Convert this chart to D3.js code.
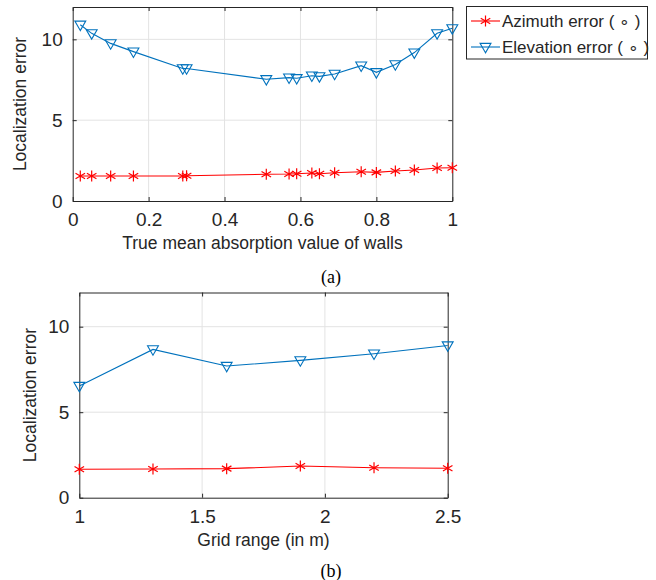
<!DOCTYPE html>
<html>
<head>
<meta charset="utf-8">
<script src="https://cdn.jsdelivr.net/npm/d3@7"></script>
<style>
  body { margin: 0; background: #fff; }
  text { font-family: "Liberation Sans", Arial, sans-serif; fill: #262626; }
  .caption { font-family: "Liberation Serif", "Times New Roman", serif; fill: #000; }
</style>
</head>
<body>
<svg id="fig" width="656" height="580"></svg>
<script>
// ---- data ----
var absorption = [0.02, 0.05, 0.10, 0.16, 0.29, 0.30, 0.51, 0.57, 0.59, 0.63, 0.65, 0.69, 0.76, 0.80, 0.85, 0.90, 0.96, 1.00];
var azimuthA   = [1.55, 1.55, 1.55, 1.55, 1.55, 1.56, 1.65, 1.67, 1.69, 1.73, 1.69, 1.75, 1.81, 1.77, 1.86, 1.92, 2.04, 2.06];
var elevationA = [10.9, 10.37, 9.75, 9.24, 8.2, 8.2, 7.53, 7.63, 7.59, 7.75, 7.71, 7.86, 8.37, 7.96, 8.45, 9.18, 10.37, 10.68];

var gridRange  = [1.0, 1.3, 1.6, 1.9, 2.2, 2.5];
var azimuthB   = [1.66, 1.68, 1.70, 1.85, 1.75, 1.72];
var elevationB = [6.53, 8.67, 7.70, 8.03, 8.42, 8.90];

var xTicksA = [0, 0.2, 0.4, 0.6, 0.8, 1];
var xTicksB = [1, 1.5, 2, 2.5];
var yTicks  = [0, 5, 10];

var seriesNames = ['Azimuth error ( \u2218 )', 'Elevation error ( \u2218 )'];
var seriesColors = ['#ff0000', '#0072bd'];

var svg = d3.select('#fig');

var asterisk = d3.symbol().type(d3.symbolAsterisk).size(85);
var triDown = d3.symbol().type(d3.symbolTriangle2).size(85);

function drawMarker(g, kind, color, x, y) {
  if (kind === 0) {
    g.append('path').attr('d', asterisk()).attr('transform', 'translate(' + x + ',' + y + ')')
      .attr('fill', 'none').attr('stroke', color).attr('stroke-width', 1.2);
  } else {
    g.append('path').attr('d', triDown()).attr('transform', 'translate(' + x + ',' + (y - 0.5) + ') rotate(180)')
      .attr('fill', 'none').attr('stroke', color).attr('stroke-width', 1.1);
  }
}

function panel(opt) {
  var x = d3.scaleLinear().domain(opt.xDomain).range([opt.left, opt.right]);
  var y = d3.scaleLinear().domain([0, 12]).range([opt.bottom, opt.top]);
  var g = svg.append('g');

  // grid
  g.selectAll('.gx').data(opt.xTicks.slice(1, -1)).enter().append('line')
    .attr('x1', function(d) { return x(d); }).attr('x2', function(d) { return x(d); })
    .attr('y1', opt.top).attr('y2', opt.bottom)
    .attr('stroke', '#e3e3e3').attr('stroke-width', 1);
  g.selectAll('.gy').data(yTicks.slice(1)).enter().append('line')
    .attr('x1', opt.left).attr('x2', opt.right)
    .attr('y1', function(d) { return y(d); }).attr('y2', function(d) { return y(d); })
    .attr('stroke', '#e3e3e3').attr('stroke-width', 1);

  // axes with inward ticks
  var fs = 19;
  var xAx = g.append('g').attr('transform', 'translate(0,' + opt.bottom + ')')
    .call(d3.axisBottom(x).tickValues(opt.xTicks).tickSizeInner(-4).tickSizeOuter(0).tickPadding(12).tickFormat(d3.format('~g')));
  var xTop = g.append('g').attr('transform', 'translate(0,' + opt.top + ')')
    .call(d3.axisTop(x).tickValues(opt.xTicks).tickSizeInner(-4).tickSizeOuter(0).tickFormat(''));
  var yAx = g.append('g').attr('transform', 'translate(' + opt.left + ',0)')
    .call(d3.axisLeft(y).tickValues(yTicks).tickSizeInner(-4).tickSizeOuter(0).tickPadding(10));
  var yR = g.append('g').attr('transform', 'translate(' + opt.right + ',0)')
    .call(d3.axisRight(y).tickValues(yTicks).tickSizeInner(-4).tickSizeOuter(0).tickFormat(''));
  [xAx, xTop, yAx, yR].forEach(function(a) {
    a.select('.domain').attr('stroke', '#262626').attr('stroke-width', 1);
    a.selectAll('.tick line').attr('stroke', '#262626');
    a.selectAll('.tick text').attr('font-size', fs).attr('fill', '#262626')
      .style('font-family', '"Liberation Sans", Arial, sans-serif');
  });

  // axis labels
  g.append('text').attr('x', (opt.left + opt.right) / 2).attr('y', opt.bottom + 48)
    .attr('text-anchor', 'middle').attr('font-size', 17.5).text(opt.xLabel);
  g.append('text').attr('transform', 'translate(' + opt.yLabelX + ',' + (opt.top + opt.bottom) / 2 + ') rotate(-90)')
    .attr('text-anchor', 'middle').attr('font-size', 17.5).text('Localization error');

  // series
  var line = d3.line().x(function(d) { return x(d[0]); }).y(function(d) { return y(d[1]); });
  opt.series.forEach(function(vals, k) {
    var pts = opt.xs.map(function(v, i) { return [v, vals[i]]; });
    g.append('path').datum(pts).attr('d', line).attr('fill', 'none')
      .attr('stroke', seriesColors[k]).attr('stroke-width', 1.1);
    pts.forEach(function(p) { drawMarker(g, k, seriesColors[k], x(p[0]), y(p[1])); });
  });

  // caption
  svg.append('text').attr('class', 'caption').attr('x', 331).attr('y', opt.captionY)
    .attr('text-anchor', 'middle').attr('font-size', 18).text(opt.caption);
}

panel({ xDomain: [0, 1], left: 72.7, right: 452.3, top: 7, bottom: 201,
  xTicks: xTicksA, xs: absorption, series: [azimuthA, elevationA],
  xLabel: 'True mean absorption value of walls', yLabelX: 26, caption: '(a)', captionY: 283 });

panel({ xDomain: [1, 2.5], left: 79.3, right: 447.7, top: 292.5, bottom: 497.7,
  xTicks: xTicksB, xs: gridRange, series: [azimuthB, elevationB],
  xLabel: 'Grid range (in m)', yLabelX: 36, caption: '(b)', captionY: 577 });

// legend
var lg = svg.append('g');
lg.append('rect').attr('x', 466.5).attr('y', 6.5).attr('width', 181).attr('height', 52.5)
  .attr('fill', '#fff').attr('stroke', '#262626').attr('stroke-width', 1);
seriesNames.forEach(function(name, k) {
  var cy = 21 + k * 26;
  lg.append('line').attr('x1', 471).attr('x2', 500).attr('y1', cy).attr('y2', cy)
    .attr('stroke', seriesColors[k]).attr('stroke-width', 1.1);
  drawMarker(lg, k, seriesColors[k], 485.5, cy);
  lg.append('text').attr('x', 502).attr('y', cy + 6).attr('font-size', 17).attr('fill', '#000').text(name);
});
</script>
</body>
</html>
